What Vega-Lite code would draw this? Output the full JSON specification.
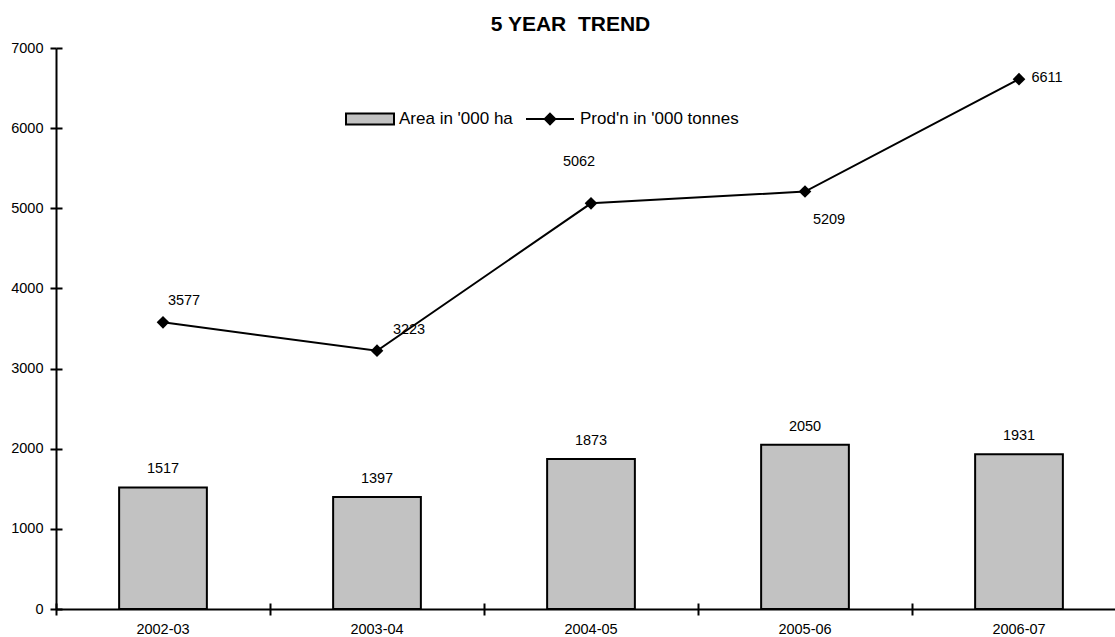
{
  "$schema": "https://vega.github.io/schema/vega-lite/v6.json",
  "width": 1059,
  "height": 561,
  "autosize": "none",
  "padding": {"left": 56, "top": 48, "right": 0, "bottom": 28},
  "background": "white",
  "config": {"view": {"stroke": null}, "font": "Liberation Sans", "axis": {"grid": false}},
  "title": {"text": "5 YEAR\u00a0\u00a0TREND", "fontSize": 21, "fontWeight": "bold", "color": "black", "font": "Liberation Sans", "anchor": "middle", "dx": -15, "offset": 5},
  "data": {"values": [
    {"year": "2002-03", "area": 1517, "prod": 3577},
    {"year": "2003-04", "area": 1397, "prod": 3223},
    {"year": "2004-05", "area": 1873, "prod": 5062},
    {"year": "2005-06", "area": 2050, "prod": 5209},
    {"year": "2006-07", "area": 1931, "prod": 6611}
  ]},
  "layer": [
    {
      "mark": {"type": "bar", "width": {"band": 0.41}, "stroke": "black", "strokeWidth": 2},
      "encoding": {
        "x": {"field": "year", "type": "nominal", "sort": null,
          "scale": {"type": "band", "range": [0, 1070], "paddingInner": 0, "paddingOuter": 0},
          "axis": {"title": null, "ticks": false, "tickSize": 0, "labelPadding": 13, "labelFontSize": 14.5, "labelColor": "black", "labelFont": "Liberation Sans", "domainColor": "black", "domainWidth": 2, "labelAngle": 0, "orient": "bottom"}},
        "y": {"field": "area", "type": "quantitative",
          "scale": {"domain": [0, 7000], "nice": false},
          "axis": {"title": null, "format": "d", "values": [0, 1000, 2000, 3000, 4000, 5000, 6000, 7000], "tickSize": 6, "tickColor": "black", "tickWidth": 2, "labelPadding": 7, "labelFontSize": 14.5, "labelColor": "black", "labelFont": "Liberation Sans", "domainColor": "black", "domainWidth": 2, "orient": "left"}},
        "fill": {"datum": "Area in '000 ha", "scale": {"range": ["#c2c2c2"]},
          "legend": {"title": null, "orient": "none", "legendX": 289, "legendY": 46, "padding": 0,
            "symbolType": "M-1,-0.23H1V0.23H-1Z", "symbolSize": 2304, "symbolStrokeColor": "black", "symbolStrokeWidth": 2,
            "labelFontSize": 17, "labelColor": "black", "labelFont": "Liberation Sans", "labelOffset": 4,
            "encode": {"symbols": {"update": {"stroke": {"value": "black"}, "strokeWidth": {"value": 2}}}}}}
      }
    },
    {
      "mark": {"type": "line", "strokeWidth": 2, "color": "black"},
      "encoding": {
        "x": {"field": "year", "type": "nominal", "sort": null,
          "axis": {"title": null, "labels": false, "domain": false, "ticks": true, "tickSize": 12, "tickWidth": 2, "tickColor": "black", "bandPosition": 0, "offset": -6, "orient": "bottom"}},
        "y": {"field": "prod", "type": "quantitative",
          "axis": {"title": null, "labels": false, "domain": false, "tickSize": 6, "tickWidth": 2, "tickColor": "black", "offset": -6, "orient": "left", "values": [0, 1000, 2000, 3000, 4000, 5000, 6000, 7000]}},
        "stroke": {"datum": "Prod'n in '000 tonnes", "scale": {"range": ["black"]},
          "legend": {"title": null, "orient": "none", "legendX": 469, "legendY": 46, "padding": 0,
            "symbolType": "M-1,0H1M0,-0.22L0.22,0L0,0.22L-0.22,0Z", "symbolSize": 2304, "symbolFillColor": "black", "symbolStrokeColor": "black", "symbolStrokeWidth": 2,
            "labelFontSize": 17, "labelColor": "black", "labelFont": "Liberation Sans", "labelOffset": 5,
            "encode": {"symbols": {"update": {"fill": {"value": "black"}, "stroke": {"value": "black"}, "strokeWidth": {"value": 2}, "opacity": {"value": 1}}}}}}
      }
    },
    {
      "mark": {"type": "point", "shape": "diamond", "filled": true, "size": 160, "color": "black", "opacity": 1},
      "encoding": {
        "x": {"field": "year", "type": "nominal", "sort": null, "axis": null},
        "y": {"field": "prod", "type": "quantitative", "axis": null}
      }
    },
    {
      "mark": {"type": "text", "dy": -18, "baseline": "middle", "align": "center", "fontSize": 14.5, "color": "black", "font": "Liberation Sans"},
      "encoding": {
        "x": {"field": "year", "type": "nominal", "sort": null, "axis": null},
        "y": {"field": "area", "type": "quantitative", "axis": null},
        "text": {"field": "area", "type": "quantitative"}
      }
    },
    {
      "transform": [{"filter": "datum.year == '2002-03'"}],
      "mark": {"type": "text", "dx": 21, "dy": -21, "baseline": "middle", "align": "center", "fontSize": 14.5, "color": "black", "font": "Liberation Sans"},
      "encoding": {
        "x": {"field": "year", "type": "nominal", "sort": null, "axis": null},
        "y": {"field": "prod", "type": "quantitative", "axis": null},
        "text": {"field": "prod", "type": "quantitative"}
      }
    },
    {
      "transform": [{"filter": "datum.year == '2003-04'"}],
      "mark": {"type": "text", "dx": 32, "dy": -21, "baseline": "middle", "align": "center", "fontSize": 14.5, "color": "black", "font": "Liberation Sans"},
      "encoding": {
        "x": {"field": "year", "type": "nominal", "sort": null, "axis": null},
        "y": {"field": "prod", "type": "quantitative", "axis": null},
        "text": {"field": "prod", "type": "quantitative"}
      }
    },
    {
      "transform": [{"filter": "datum.year == '2004-05'"}],
      "mark": {"type": "text", "dx": -12, "dy": -41, "baseline": "middle", "align": "center", "fontSize": 14.5, "color": "black", "font": "Liberation Sans"},
      "encoding": {
        "x": {"field": "year", "type": "nominal", "sort": null, "axis": null},
        "y": {"field": "prod", "type": "quantitative", "axis": null},
        "text": {"field": "prod", "type": "quantitative"}
      }
    },
    {
      "transform": [{"filter": "datum.year == '2005-06'"}],
      "mark": {"type": "text", "dx": 24, "dy": 28, "baseline": "middle", "align": "center", "fontSize": 14.5, "color": "black", "font": "Liberation Sans"},
      "encoding": {
        "x": {"field": "year", "type": "nominal", "sort": null, "axis": null},
        "y": {"field": "prod", "type": "quantitative", "axis": null},
        "text": {"field": "prod", "type": "quantitative"}
      }
    },
    {
      "transform": [{"filter": "datum.year == '2006-07'"}],
      "mark": {"type": "text", "dx": 28, "dy": -1, "baseline": "middle", "align": "center", "fontSize": 14.5, "color": "black", "font": "Liberation Sans"},
      "encoding": {
        "x": {"field": "year", "type": "nominal", "sort": null, "axis": null},
        "y": {"field": "prod", "type": "quantitative", "axis": null},
        "text": {"field": "prod", "type": "quantitative"}
      }
    }
  ],
  "resolve": {"axis": {"x": "independent", "y": "independent"}}
}
